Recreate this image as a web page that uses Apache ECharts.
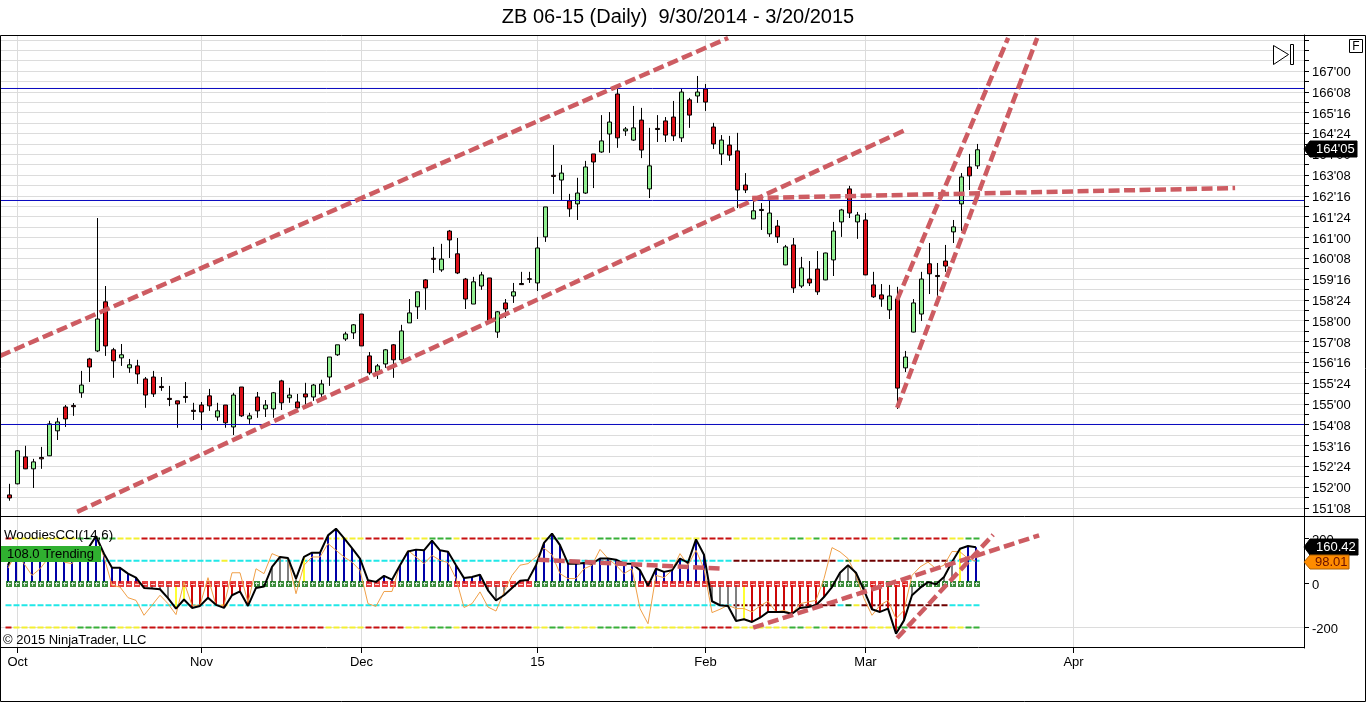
<!DOCTYPE html>
<html><head><meta charset="utf-8">
<style>html,body{margin:0;padding:0;background:#fff}#c{width:1366px;height:703px}</style>
<script src="https://cdn.jsdelivr.net/npm/echarts@6/dist/echarts.min.js"></script>
</head><body><div id="c"></div>
<script>
const opens=[151.72,152.12,153.09,152.66,153.07,153.13,154.03,154.89,154.94,155.40,156.62,156.91,158.68,156.95,156.66,156.30,156.37,155.90,155.97,155.63,155.20,155.11,155.27,154.77,154.96,155.29,154.53,154.96,154.17,155.61,154.46,155.25,154.82,154.82,155.83,155.22,155.07,155.36,155.25,155.36,155.97,156.77,157.34,157.56,158.24,156.73,156.15,156.44,157.13,156.59,157.92,158.50,159.47,160.25,159.83,161.23,160.41,159.50,158.60,159.25,159.54,157.59,158.64,158.89,159.34,159.51,159.36,161.02,163.24,163.07,162.32,162.21,162.60,164.01,164.08,164.73,166.17,164.84,164.51,165.23,162.75,164.93,165.20,165.34,164.59,165.96,166.10,166.35,164.98,164.01,164.33,164.12,162.89,161.67,162.01,161.13,161.41,160.01,160.73,159.25,159.50,159.86,159.47,160.19,161.56,162.75,161.56,161.63,159.29,158.93,158.39,158.78,156.30,157.59,158.24,160.05,159.63,160.15,161.20,162.21,163.54,163.58];
const closes=[151.61,153.31,152.66,152.91,153.02,154.28,154.35,154.46,154.90,155.68,156.33,158.06,157.09,156.55,156.77,156.41,156.08,155.32,155.36,155.59,155.16,155.00,155.23,154.73,154.71,154.93,154.75,154.32,155.32,154.57,154.57,154.75,154.96,155.40,155.04,155.32,154.86,155.25,155.68,155.72,156.69,157.13,157.52,157.85,157.09,156.12,156.37,156.95,156.59,157.63,158.28,159.04,159.18,160.21,160.22,160.91,159.72,158.78,159.40,159.65,157.96,158.32,158.42,159.04,159.30,159.49,160.62,162.10,163.20,163.32,162.03,162.60,163.54,163.72,164.48,165.16,164.59,164.91,164.95,164.15,163.58,164.89,164.69,164.66,166.24,165.41,166.24,165.88,164.37,164.51,163.97,162.71,162.71,161.96,161.97,161.88,161.02,160.66,159.18,159.90,159.36,159.04,160.44,161.23,161.99,161.88,161.81,159.65,158.86,158.78,158.89,155.57,156.69,158.64,159.50,159.69,159.59,159.97,161.38,163.18,163.22,164.16];
const lows=[151.51,152.10,152.65,151.97,152.66,153.12,153.70,154.17,154.57,155.22,155.79,156.87,156.73,155.94,156.37,156.12,155.72,154.86,155.25,155.47,154.92,154.14,155.04,154.42,154.06,154.75,154.39,154.14,153.88,154.53,154.28,154.50,154.53,154.50,154.78,155.04,154.71,154.96,155.11,155.25,155.65,156.73,157.27,157.34,157.09,156.05,155.90,156.30,155.94,156.59,157.92,158.06,158.39,159.72,159.76,160.26,159.68,158.42,158.60,159.11,157.88,157.38,158.10,158.64,159.29,159.36,159.07,160.84,162.57,162.35,161.74,161.63,162.57,162.78,164.05,164.05,164.23,164.66,164.48,163.86,162.42,164.44,164.44,164.48,164.44,164.95,165.85,165.56,164.19,163.61,163.76,162.06,162.60,161.66,161.27,161.02,160.80,160.00,159.00,159.18,159.25,158.93,159.46,159.61,161.02,161.70,160.95,159.64,158.82,158.50,158.06,154.82,156.15,157.58,157.99,158.96,158.89,159.76,160.80,161.24,162.71,163.47];
const highs=[152.12,153.33,153.49,153.02,153.45,154.39,154.50,154.96,155.03,156.19,156.66,161.70,159.25,157.02,157.16,156.62,156.59,155.97,156.19,155.97,155.65,155.11,155.79,155.04,155.07,155.54,155.04,154.96,155.40,155.61,154.68,155.43,155.14,155.43,155.87,155.58,155.36,155.76,155.72,155.87,156.69,157.13,157.60,157.88,158.24,156.87,156.44,156.98,157.16,157.85,158.78,159.04,159.50,160.66,160.77,161.27,160.98,159.54,159.58,159.76,159.54,158.35,158.78,159.36,159.76,159.76,161.02,162.10,164.33,163.61,162.57,163.15,163.76,164.01,165.41,165.52,166.39,164.98,165.74,165.67,164.95,165.41,165.34,165.92,166.35,166.03,166.82,166.53,165.13,164.69,164.66,164.77,163.32,162.35,162.24,162.35,161.63,160.73,160.98,160.30,160.15,160.51,160.45,161.56,162.03,162.86,161.92,161.88,159.76,159.32,159.29,159.22,156.91,158.78,159.76,160.80,160.08,160.73,161.63,163.32,164.01,164.37];
const cci=[80,162,117,102,110,117,140,125,117,132,155,210,132,69,68,42,24,-22,-25,-28,-68,-115,-74,-112,-103,-66,-98,-112,-55,-38,-103,-22,-16,72,117,112,20,117,136,136,214,244,202,157,110,12,5,32,15,80,142,150,147,190,147,140,80,22,27,37,-33,-78,-55,-22,10,13,80,180,222,170,87,87,90,87,110,110,105,87,87,57,-13,64,50,57,110,92,196,127,-82,-100,-103,-171,-163,-175,-156,-130,-130,-130,-138,-112,-108,-100,-63,-18,46,80,46,-33,-118,-130,-115,-228,-168,-55,-22,4,-6,27,94,154,166,160.42];
const turbo=[67,132,87,34,64,110,132,94,87,140,154,207,117,-10,-18,-66,-78,-145,-100,-55,-93,-142,4,-100,-100,24,-100,-100,46,46,-88,64,42,132,117,110,-48,80,117,117,177,147,117,94,57,-93,-105,-38,-38,80,147,117,87,124,102,92,20,-110,-93,-40,-108,-126,-40,34,80,87,117,157,127,42,20,20,64,80,151,110,80,42,64,-115,-183,34,24,57,132,80,147,64,-133,-118,-100,-115,-115,-130,-103,-82,-130,-123,-138,-93,-85,-78,20,159,140,110,34,-70,-145,-100,-78,-160,-123,34,72,94,64,80,142,140,110,98.01];
const histRuns=[[17,'b'],[4,'g'],[2,'y'],[8,'r'],[6,'g'],[1,'y'],[19,'b'],[3,'b'],[3,'g'],[1,'r'],[2,'b'],[14,'b'],[1,'g'],[7,'b'],[4,'g'],[1,'y'],[11,'r'],[4,'g'],[5,'r'],[6,'g'],[1,'y'],[2,'b']];
const signRuns=[[13,'+'],[18,'-'],[14,'+'],[4,'-'],[7,'+'],[10,'-'],[13,'+'],[23,'-'],[6,'+'],[2,'-'],[1,'+'],[2,'-'],[9,'+']];
const outerBand=[[0,0,'r'],[1,8,'y'],[9,13,'g'],[14,16,'y'],[17,39,'r'],[40,44,'y'],[45,49,'r'],[50,52,'y'],[53,55,'g'],[56,56,'y'],[57,65,'r'],[66,67,'y'],[68,69,'g'],[70,73,'y'],[74,78,'g'],[79,86,'y'],[87,90,'r'],[91,97,'y'],[98,99,'g'],[100,100,'y'],[101,101,'g'],[102,102,'y'],[103,107,'r'],[108,110,'y'],[111,112,'g'],[113,117,'r'],[118,119,'y'],[120,121,'g']];
const innerBand=[[0,26,'c'],[27,27,'y'],[28,90,'c'],[91,103,'d'],[104,104,'c'],[105,105,'e'],[106,106,'y'],[107,117,'d'],[118,121,'c']];
const bandLevels=[200,-200];
const innerLevels=[100,-100];
const blueLevels=[166.369,162.332,154.258];
const priceLabels=[167,166.25,165.5,164.75,164,163.25,162.5,161.75,161,160.25,159.5,158.75,158,157.25,156.5,155.75,155,154.25,153.5,152.75,152,151.25];
const priceExtraTicks=[168.125,167.75,167.375];
const cciLabels=[200,0,-200];
const monthPos=[1,24,44,66,87,107,133];
const monthNames=['Oct','Nov','Dec','15','Feb','Mar','Apr'];
const priceTrends=[[[-1.17,156.73],[89.83,168.19]],[[8.46,151.11],[111.96,164.87]],[[92.83,162.42],[153.2,162.78]],[[110.96,158.75],[124.83,168.19]],[[110.96,154.86],[128.46,168.19]]];
const cciTrends=[[[66.1,105],[89.1,64.5]],[[92.96,-201],[128.7,214]],[[110.96,-247],[122.96,217]]];

const XMIN=-1.0625,XMAX=161.8125;
const HMIN=-0.875,HMAX=162;
const idx=opens.map((_,i)=>i);
const FONT='"Liberation Sans",Arial,sans-serif';
const histColor={b:'#0000a8',r:'#cc0808',g:'#808080',y:'#ffff33'};
const bandColor={r:'#c81010',y:'#f4f030',g:'#38b038',c:'#20e8e8',d:'#6e0000',e:'#0a5a0a'};
const expand=runs=>{const o=[];runs.forEach(([n,v])=>{for(let k=0;k<n;k++)o.push(v)});return o};
const histKinds=expand(histRuns),signs=expand(signRuns);
const priceTicks=[...priceExtraTicks];
priceLabels.forEach(v=>{priceTicks.push(v);if(v>151.5)priceTicks.push(v-0.375)});

const fmtPrice=v=>{const f=Math.floor(v+1e-6);const t=Math.round((v-f)*32);return f+"'"+String(t).padStart(2,'0')};
const base={animation:false,silent:true};
const DASH=[11,4.5],TREND='#cd5c62';
const series=[];
series.push(Object.assign({},base,{type:'candlestick',xAxisIndex:0,yAxisIndex:0,z:3,barWidth:4,
  data:idx.map(i=>[i,opens[i],closes[i],lows[i],highs[i]]),
  itemStyle:{color:'#90ee90',color0:'#dc1018',borderColor:'#000',borderColor0:'#000',borderColorDoji:'#000',borderWidth:1}}));
blueLevels.forEach(v=>series.push(Object.assign({},base,{type:'line',xAxisIndex:0,yAxisIndex:0,z:4,symbol:'none',data:[[XMIN,v],[XMAX,v]],lineStyle:{color:'#0808c0',width:1}})));
priceTrends.forEach(d=>series.push(Object.assign({},base,{type:'line',xAxisIndex:0,yAxisIndex:0,z:5,symbol:'none',data:d,lineStyle:{color:TREND,width:4.5,type:DASH}})));
// indicator
series.push(Object.assign({},base,{type:'line',xAxisIndex:1,yAxisIndex:1,z:1,symbol:'none',data:[[XMIN,-200],[XMAX,-200]],lineStyle:{color:'#dcdcdc',width:1}}));
[...bandLevels.map(l=>[l,outerBand]),...innerLevels.map(l=>[l,innerBand])].forEach(([lvl,segs])=>{
  segs.forEach(([a,b,c])=>series.push(Object.assign({},base,{type:'line',xAxisIndex:1,yAxisIndex:1,z:2,symbol:'none',data:[[a-0.5,lvl],[b+0.5,lvl]],lineStyle:{color:bandColor[c],width:2,type:[6,2]}})));
});
series.push(Object.assign({},base,{type:'bar',xAxisIndex:2,yAxisIndex:1,z:3,barWidth:2,data:idx.map(i=>({value:[i,cci[i]],itemStyle:{color:histColor[histKinds[i]]}}))}));
series.push(Object.assign({},base,{type:'scatter',xAxisIndex:1,yAxisIndex:1,z:4,symbol:'rect',symbolSize:6,symbolOffset:[-0.5,1],data:idx.map(i=>({value:[i,0],itemStyle:{color:signs[i]==='+'?'#0a6e0a':'#e01010'}}))}));
series.push(Object.assign({},base,{type:'scatter',xAxisIndex:1,yAxisIndex:1,z:5,symbol:'path://M1,0h1v1h2v1h-2v2h-1v-2h-1v-1h1z',symbolSize:4,symbolOffset:[-0.5,1],itemStyle:{color:'#fff'},data:idx.filter(i=>signs[i]==='+').map(i=>[i,0])}));
series.push(Object.assign({},base,{type:'scatter',xAxisIndex:1,yAxisIndex:1,z:5,symbol:'rect',symbolSize:[4,1],symbolOffset:[-0.5,1.5],itemStyle:{color:'#fff'},data:idx.filter(i=>signs[i]==='-').map(i=>[i,0])}));
series.push(Object.assign({},base,{type:'line',xAxisIndex:2,yAxisIndex:1,z:6,symbol:'none',data:idx.map(i=>[i,turbo[i]]),lineStyle:{color:'#f0a048',width:1}}));
series.push(Object.assign({},base,{type:'line',xAxisIndex:2,yAxisIndex:1,z:7,symbol:'none',data:idx.map(i=>[i,cci[i]]),lineStyle:{color:'#000',width:2}}));
cciTrends.forEach(d=>series.push(Object.assign({},base,{type:'line',xAxisIndex:1,yAxisIndex:1,z:8,symbol:'none',data:d,lineStyle:{color:TREND,width:4.5,type:DASH}})));

const txt=(x,y,text,opt)=>({type:'text',z:50,x,y,style:Object.assign({text,fill:'#000',font:'13px '+FONT,textVerticalAlign:'middle'},opt||{})});
const line=(x1,y1,x2,y2,c)=>({type:'line',z:49,shape:{x1,y1,x2,y2},style:{stroke:c||'#000',lineWidth:1}});
const tag=(x2,y1,y2,fill,stroke)=>({type:'polygon',z:50,shape:{points:[[1304,(y1+y2)/2],[1310,y1],[x2,y1],[x2,y2],[1310,y2]]},style:{fill,stroke}});
const graphic=[
  line(0.5,35.5,1365.5,35.5),line(0.5,35.5,0.5,701.5),line(1365.5,35.5,1365.5,701.5),line(0.5,701.5,1365.5,701.5),
  line(0.5,516.5,1365.5,516.5),line(0.5,647.5,1304.5,647.5),
  {type:'rect',z:50,shape:{x:1349.5,y:39.5,width:13,height:13},style:{fill:'#fff',stroke:'#000'}},
  txt(1356,46.5,'F',{font:'12px '+FONT,textAlign:'center'}),
  {type:'polygon',z:50,shape:{points:[[1273.5,45.5],[1288.5,54.5],[1273.5,64.5]]},style:{fill:'#fff',stroke:'#000'}},
  {type:'rect',z:50,shape:{x:1290.5,y:44.5,width:3,height:20},style:{fill:'#fff',stroke:'#000'}},
  tag(1357,141,157,'#000','#000'),txt(1316,149.5,"164'05",{fill:'#fff',font:'13px '+FONT}),
  tag(1358,539,555,'#000','#000'),txt(1316,547.5,'160.42',{fill:'#fff',font:'13px '+FONT}),
  tag(1349,555,569,'#ff8c00','#b06000'),txt(1315,562.5,'98.01',{fill:'#6a1000',font:'13px '+FONT}),
  txt(4,535,'WoodiesCCI(14,6)',{font:'13.3px '+FONT}),
  {type:'rect',z:50,shape:{x:1,y:546,width:100,height:16},style:{fill:'#30b030'}},
  txt(7,554.5,'108.0 Trending',{font:'13px '+FONT}),
  txt(3,640,'\u00a9 2015 NinjaTrader, LLC',{font:'13px '+FONT})
];
const chart=echarts.init(document.getElementById('c'),null,{renderer:'canvas'});
chart.setOption({
  backgroundColor:'#fff',animation:false,
  title:{text:'ZB 06-15 (Daily)  9/30/2014 - 3/20/2015',left:673,top:2,textAlign:'center',textStyle:{fontFamily:FONT,fontSize:20,fontWeight:'normal',color:'#000'}},
  grid:[{left:1,top:35,width:1303,height:481},{left:1,top:517,width:1303,height:131}],
  xAxis:[
    {type:'value',gridIndex:0,min:XMIN,max:XMAX,axisLine:{show:false,onZero:false},axisTick:{show:false,customValues:monthPos},axisLabel:{show:false},splitLine:{show:true,lineStyle:{color:'#dcdcdc',width:1}}},
    {type:'value',gridIndex:1,min:XMIN,max:XMAX,axisLine:{show:false,onZero:false},axisTick:{show:true,length:5,customValues:monthPos,lineStyle:{color:'#000'}},
      axisLabel:{show:true,customValues:monthPos,margin:8,color:'#000',fontFamily:FONT,fontSize:13,formatter:v=>monthNames[monthPos.indexOf(v)]},splitLine:{show:true,lineStyle:{color:'#dcdcdc',width:1}}},
    {type:'value',gridIndex:1,min:HMIN,max:HMAX,show:false}
  ],
  yAxis:[
    {type:'value',gridIndex:0,position:'right',min:150.96,max:168.297,axisLine:{show:true,onZero:false,lineStyle:{color:'#000'}},axisTick:{show:true,length:5,customValues:priceTicks,lineStyle:{color:'#000'}},
      axisLabel:{show:true,customValues:priceLabels,margin:8,verticalAlign:'top',lineHeight:3,color:'#000',fontFamily:FONT,fontSize:13,formatter:fmtPrice},splitLine:{show:true,lineStyle:{color:'#dcdcdc',width:1}}},
    {type:'value',gridIndex:1,position:'right',min:-292.1,max:296.6,axisLine:{show:true,onZero:false,lineStyle:{color:'#000'}},axisTick:{show:true,length:5,customValues:cciLabels,lineStyle:{color:'#000'}},
      axisLabel:{show:true,customValues:cciLabels,margin:8,verticalAlign:'top',lineHeight:4,color:'#000',fontFamily:FONT,fontSize:13},splitLine:{show:false}}
  ],
  series,graphic
});
</script></body></html>
